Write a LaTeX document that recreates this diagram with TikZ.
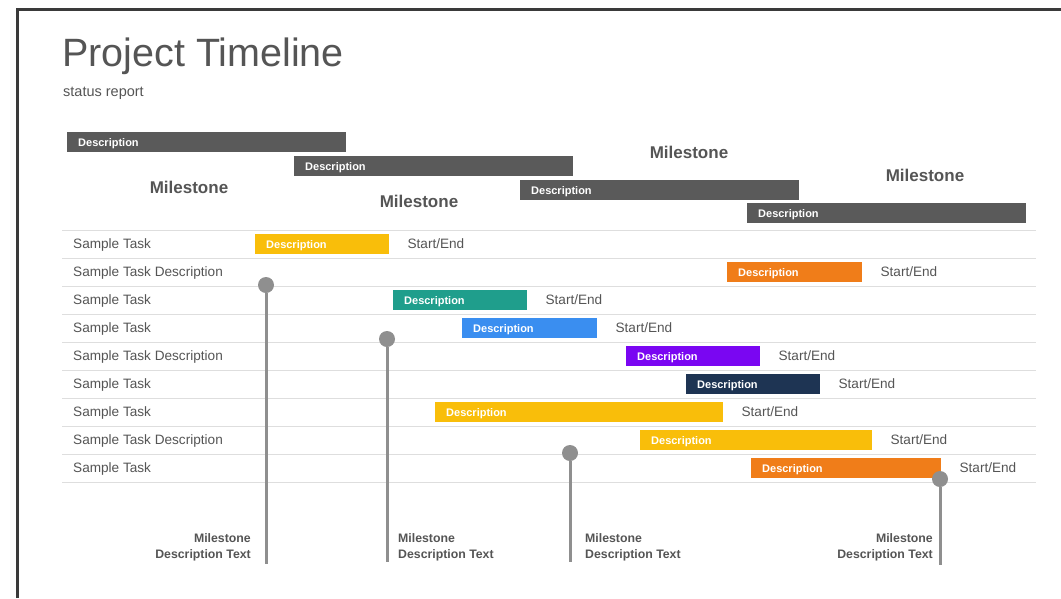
\documentclass[tikz,border=0pt]{standalone}
\usepackage{fontspec}
\setmainfont{Liberation Sans}
\usetikzlibrary{positioning}
\definecolor{textgray}{HTML}{555555}
\definecolor{bargray}{HTML}{5A5A5A}
\definecolor{rulegray}{HTML}{DEDEDE}
\definecolor{stemgray}{HTML}{8F8F8F}
\definecolor{framegray}{HTML}{3A3A3A}
\definecolor{taskyellow}{HTML}{F9BE0A}
\definecolor{taskorange}{HTML}{F07D19}
\definecolor{taskteal}{HTML}{1F9E8C}
\definecolor{taskblue}{HTML}{3A8EF0}
\definecolor{taskpurple}{HTML}{7A06F2}
\definecolor{tasknavy}{HTML}{1E3453}
\def\taskbar{\node[bar]}
\def\stemdot{\node[circle,fill=stemgray,inner sep=0pt,minimum size=16pt]}
\def\drawstem{\draw[color=stemgray, line width=3pt]}
\tikzset{
  bar/.style={anchor=west, inner xsep=11pt, inner ysep=0pt, minimum height=20pt,
    text height=8pt, text depth=0pt,
    text=white, align=left, font=\fontsize{11}{13}\selectfont\bfseries},
  tasklabel/.style={anchor=west, inner sep=0pt, text height=9.7pt, text depth=0pt,
    text=textgray, font=\fontsize{13.6}{16}\selectfont},
  startend/.style={tasklabel},
  milehead/.style={inner sep=0pt, text=textgray, font=\fontsize{17}{20}\selectfont\bfseries},
  miletext/.style={inner sep=0pt, text=textgray, font=\fontsize{12.3}{16}\selectfont\bfseries},
  rowline/.style={draw=rulegray, line width=1pt},
}

\begin{document}
\begin{tikzpicture}[x=1pt,y=-1pt]
\useasboundingbox (0,0) rectangle (1061,598);
\fill[white] (0,0) rectangle (1061,598);
\draw[color=framegray, line width=3pt] (17,598) -- (17,9) -- (1061,9);

% ---------- heading
\node[anchor=base west, inner sep=0pt, text=textgray, font=\fontsize{39.5}{46}\selectfont] (title) at (62,66) {Project Timeline};
\node[anchor=base west, inner sep=0pt, text=textgray, font=\fontsize{14.5}{17}\selectfont] (subtitle) at (63,96) {status report};

% ---------- phases on top (grey bars)
\taskbar[fill=bargray, text width=257pt] (phase1) at (67,142) {Description};
\taskbar[fill=bargray, text width=257pt] (phase2) at (294,166) {Description};
\taskbar[fill=bargray, text width=257pt] (phase3) at (520,190) {Description};
\taskbar[fill=bargray, text width=257pt] (phase4) at (747,213) {Description};
\node[milehead] (head1) at (189,187) {Milestone};
\node[milehead] (head2) at (419,201) {Milestone};
\node[milehead] (head3) at (689,152) {Milestone};
\node[milehead] (head4) at (925,175) {Milestone};

% ---------- rows
\draw[rowline] (62,230) -- (1036,230);
\draw[rowline] (62,258) -- (1036,258);
\draw[rowline] (62,286) -- (1036,286);
\draw[rowline] (62,314) -- (1036,314);
\draw[rowline] (62,342) -- (1036,342);
\draw[rowline] (62,370) -- (1036,370);
\draw[rowline] (62,398) -- (1036,398);
\draw[rowline] (62,426) -- (1036,426);
\draw[rowline] (62,454) -- (1036,454);
\draw[rowline] (62,482) -- (1036,482);

\node[tasklabel] (row1) at (73,244) {Sample Task};
\node[tasklabel] (row2) at (73,272) {Sample Task Description};
\node[tasklabel] (row3) at (73,300) {Sample Task};
\node[tasklabel] (row4) at (73,328) {Sample Task};
\node[tasklabel] (row5) at (73,356) {Sample Task Description};
\node[tasklabel] (row6) at (73,384) {Sample Task};
\node[tasklabel] (row7) at (73,412) {Sample Task};
\node[tasklabel] (row8) at (73,440) {Sample Task Description};
\node[tasklabel] (row9) at (73,468) {Sample Task};

% ---------- task bars, each with its Start/End to the right
\taskbar[fill=taskyellow, text width=112pt] (task1) at (255,244) {Description};
\taskbar[fill=taskorange, text width=113pt] (task2) at (727,272) {Description};
\taskbar[fill=taskteal,   text width=112pt] (task3) at (393,300) {Description};
\taskbar[fill=taskblue,   text width=113pt] (task4) at (462,328) {Description};
\taskbar[fill=taskpurple, text width=112pt] (task5) at (626,356) {Description};
\taskbar[fill=tasknavy,   text width=112pt] (task6) at (686,384) {Description};
\taskbar[fill=taskyellow, text width=266pt] (task7) at (435,412) {Description};
\taskbar[fill=taskyellow, text width=210pt] (task8) at (640,440) {Description};
\taskbar[fill=taskorange, text width=168pt] (task9) at (751,468) {Description};
\node[startend, right=18pt of task1] (end1) {Start/End};
\node[startend, right=18pt of task2] (end2) {Start/End};
\node[startend, right=18pt of task3] (end3) {Start/End};
\node[startend, right=18pt of task4] (end4) {Start/End};
\node[startend, right=18pt of task5] (end5) {Start/End};
\node[startend, right=18pt of task6] (end6) {Start/End};
\node[startend, right=18pt of task7] (end7) {Start/End};
\node[startend, right=18pt of task8] (end8) {Start/End};
\node[startend, right=18pt of task9] (end9) {Start/End};

% ---------- milestone stems
\stemdot (dot1) at (266,285) {};
\stemdot (dot2) at (387,339) {};
\stemdot (dot3) at (570,453) {};
\stemdot (dot4) at (940,479) {};
\coordinate (foot1) at (266,564); % bottom of the stems
\coordinate (foot2) at (387,562);
\coordinate (foot3) at (570,562);
\coordinate (foot4) at (940,565);
\drawstem (dot1) -- (foot1);
\drawstem (dot2) -- (foot2);
\drawstem (dot3) -- (foot3);
\drawstem (dot4) -- (foot4);
\node[miletext, align=right, anchor=south east] (note1) at (251,561) {Milestone\\Description Text};
\node[miletext, align=left, anchor=south west] (note2) at (398,561) {Milestone\\Description Text};
\node[miletext, align=left, anchor=south west] (note3) at (585,561) {Milestone\\Description Text};
\node[miletext, align=right, anchor=south east] (note4) at (933,561) {Milestone\\Description Text};
\end{tikzpicture}
\end{document}
